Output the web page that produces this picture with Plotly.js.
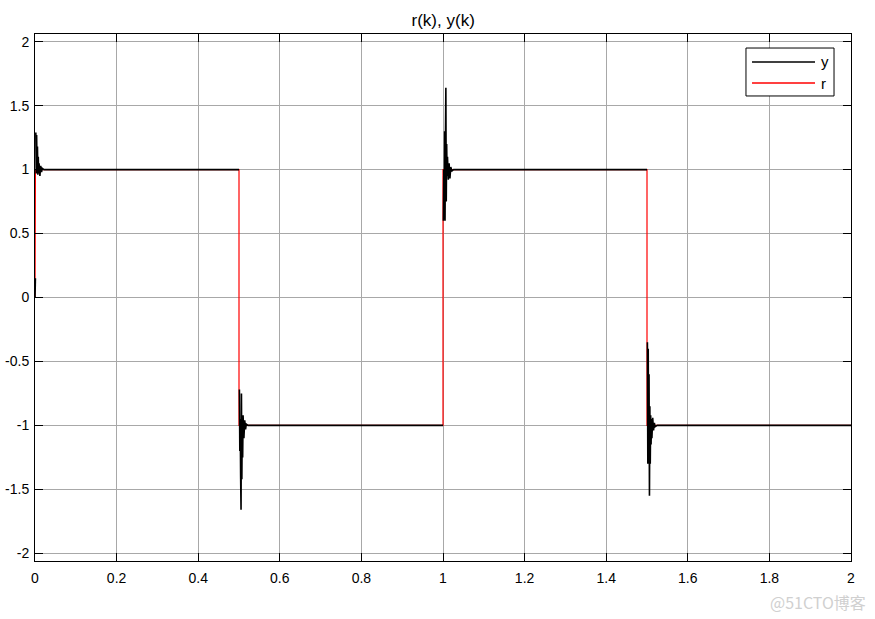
<!DOCTYPE html>
<html>
<head>
<meta charset="utf-8">
<script src="https://cdn.plot.ly/plotly-3.0.1.min.js"></script>
<style>html,body{margin:0;padding:0;background:#fff;}#chart{width:875px;height:619px;}</style>
</head>
<body>
<div id="chart"></div>
<script>
// Output y(k): sample times and values (flat segments joined between transients; null = jump hidden behind r)
const tY = [
  0, 0.001, 0.0015, 0.002, 0.003, 0.004, 0.005, 0.006, 0.007, 0.008, 0.009, 0.010, 0.012, 0.014, 0.016, 0.018, 0.022,
  0.500, 0.5005, 0.501, 0.502, 0.503, 0.504, 0.505, 0.506, 0.507, 0.508, 0.509, 0.510, 0.512, 0.514, 0.516, 0.518, 0.522,
  1.000, 1.0005, 1.001, 1.002, 1.003, 1.004, 1.005, 1.006, 1.007, 1.008, 1.009, 1.010, 1.011, 1.013, 1.015, 1.017, 1.019, 1.022, 1.026,
  1.500, 1.5005, 1.501, 1.502, 1.503, 1.504, 1.505, 1.506, 1.507, 1.508, 1.509, 1.510, 1.511, 1.512, 1.514, 1.516, 1.518, 1.520, 1.525,
  2.000
];
const yVals = [
  0, 0.15, null, 1.29, 0.97, 1.27, 0.99, 1.18, 0.96, 1.10, 0.97, 1.05, 0.95, 1.03, 0.98, 1.01, 1.00,
  1.00, null, -0.72, -1.20, -0.95, -1.40, -1.66, -0.75, -1.42, -0.95, -1.25, -0.92, -1.10, -0.96, -1.03, -0.99, -1.00,
  -1.00, null, 0.60, 1.00, 0.62, 1.30, 0.60, 1.25, 1.64, 0.75, 1.20, 0.95, 1.10, 0.92, 1.05, 0.93, 1.02, 0.99, 1.00,
  1.00, null, -0.35, -1.30, -0.40, -1.25, -0.60, -1.55, -0.85, -1.30, -0.92, -1.15, -0.95, -1.10, -0.94, -1.04, -0.98, -1.01, -1.00,
  -1.00
];
// Reference r(k): square wave
const tR = [0, 0.001, 0.5, 0.5, 1.0, 1.0, 1.5, 1.5, 2.0];
const rVals = [0, 1, 1, -1, -1, 1, 1, -1, -1];

const xTicks = [0, 0.2, 0.4, 0.6, 0.8, 1, 1.2, 1.4, 1.6, 1.8, 2];
const xTickText = ["0", "0.2", "0.4", "0.6", "0.8", "1", "1.2", "1.4", "1.6", "1.8", "2"];
const yTicks = [-2, -1.5, -1, -0.5, 0, 0.5, 1, 1.5, 2];
const yTickText = ["-2", "-1.5", "-1", "-0.5", "0", "0.5", "1", "1.5", "2"];
const legendNames = ["y", "r"];
const legendColors = ["#000000", "#ff0000"];

const font = "Liberation Sans, Arial, Helvetica, sans-serif";

// r drawn first, y on top (as in the reference)
const traces = [
  {x: tR, y: rVals, name: "r", type: "scatter", mode: "lines", line: {color: "#ff0000", width: 1.2, simplify: false}, connectgaps: false},
  {x: tY, y: yVals, name: "y", type: "scatter", mode: "lines", line: {color: "#000000", width: 1.6, simplify: false}, connectgaps: false}
];

const axisCommon = {
  showline: true, linecolor: "#000", linewidth: 1, mirror: "ticks",
  ticks: "inside", ticklen: 8, tickwidth: 1, tickcolor: "#000",
  showgrid: true, gridcolor: "#a8a8a8", gridwidth: 1,
  zeroline: false, tickfont: {family: font, size: 14, color: "#000"}
};

// Legend box drawn in paper coordinates (MATLAB-style long sample lines)
const lgX0 = 0.8713, lgX1 = 0.9792, lgY0 = 0.8824, lgY1 = 0.9734;
const rowY = [0.9469, 0.9070];
const lnX0 = 0.8787, lnX1 = 0.9559, txX = 0.9605;
const shapes = [{type: "rect", xref: "paper", yref: "paper", x0: lgX0, x1: lgX1, y0: lgY0, y1: lgY1,
  line: {color: "#000", width: 1}, fillcolor: "#fff", layer: "above"}];
const annotations = [];
legendNames.forEach((nm, i) => {
  shapes.push({type: "line", xref: "paper", yref: "paper", x0: lnX0, x1: lnX1, y0: rowY[i], y1: rowY[i],
    line: {color: legendColors[i], width: 1.4}, layer: "above"});
  annotations.push({text: nm, xref: "paper", yref: "paper", x: txX, y: rowY[i], xanchor: "left", yanchor: "middle",
    showarrow: false, font: {family: font, size: 15, color: "#000"}});
});
annotations.push({
  text: "@51CTO博客", xref: "paper", yref: "paper", x: 1.0208, y: -0.0778, xanchor: "right", yanchor: "middle",
  showarrow: false, font: {family: "Noto Sans CJK SC, sans-serif", size: 16, color: "#d0d0d0"}
});

const layout = {
  width: 875, height: 619,
  margin: {l: 35, r: 24, t: 34, b: 58},
  paper_bgcolor: "#fff", plot_bgcolor: "#fff",
  title: {text: "r(k), y(k)", font: {family: font, size: 17, color: "#000"}, x: 0.5065, xanchor: "center", y: 0.967, yanchor: "middle"},
  xaxis: Object.assign({}, axisCommon, {range: [0, 2], tickvals: xTicks, ticktext: xTickText, ticklabelstandoff: 4}),
  yaxis: Object.assign({}, axisCommon, {range: [-2.06, 2.06], tickvals: yTicks, ticktext: yTickText, ticklabelstandoff: 2}),
  showlegend: false,
  shapes: shapes,
  annotations: annotations
};

Plotly.newPlot("chart", traces, layout, {displayModeBar: false, staticPlot: true});
</script>
</body>
</html>
